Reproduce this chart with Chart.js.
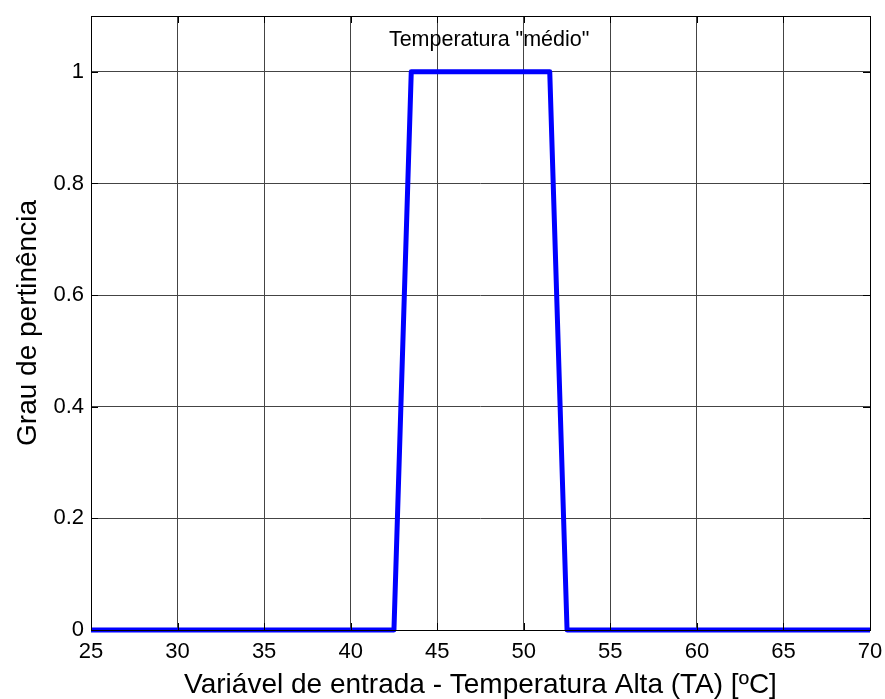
<!DOCTYPE html>
<html>
<head>
<meta charset="utf-8">
<script src="https://cdn.jsdelivr.net/npm/chart.js@4/dist/chart.umd.min.js"></script>
<style>
  html, body { margin: 0; padding: 0; background: #fff; }
  #wrap { width: 885px; height: 699px; }
</style>
</head>
<body>
<div id="wrap"><canvas id="c" width="885" height="699"></canvas></div>
<script>
// membership function "médio" (trapezoid)
const tempX = [25, 42.5, 43.5, 51.5, 52.5, 70];
const grau = [0, 0, 1, 1, 0, 0];
const xTicks = [25, 30, 35, 40, 45, 50, 55, 60, 65, 70];
const yTicks = [0, 0.2, 0.4, 0.6, 0.8, 1];
const labelText = 'Temperatura "médio"';
const labelPos = [48, 1.057];

const FONT = '"Liberation Sans", Arial, sans-serif';

const framePlugin = {
  id: 'frame',
  afterDatasetsDraw(chart) {
    const { ctx, chartArea: a, scales: { x, y } } = chart;
    ctx.save();
    ctx.strokeStyle = '#000';
    ctx.lineWidth = 1;
    ctx.beginPath();
    xTicks.forEach(v => {
      const px = Math.round(x.getPixelForValue(v)) + 0.5;
      ctx.moveTo(px, a.bottom); ctx.lineTo(px, a.bottom - 7);
      ctx.moveTo(px, a.top); ctx.lineTo(px, a.top + 7);
    });
    yTicks.forEach(v => {
      const py = Math.round(y.getPixelForValue(v)) + 0.5;
      ctx.moveTo(a.left, py); ctx.lineTo(a.left + 7, py);
      ctx.moveTo(a.right, py); ctx.lineTo(a.right - 7, py);
    });
    ctx.stroke();
    ctx.strokeRect(Math.round(a.left) + 0.5, Math.round(a.top) + 0.5,
      Math.round(a.right - a.left), Math.round(a.bottom - a.top));
    ctx.fillStyle = '#000';
    ctx.font = '21.5px ' + FONT;
    ctx.textAlign = 'center';
    ctx.textBaseline = 'middle';
    ctx.fillText(labelText, x.getPixelForValue(labelPos[0]), y.getPixelForValue(labelPos[1]));
    ctx.restore();
  }
};

new Chart(document.getElementById('c'), {
  type: 'line',
  data: {
    datasets: [{
      data: tempX.map((t, i) => ({ x: t, y: grau[i] })),
      borderColor: '#0000ff',
      borderWidth: 5,
      pointRadius: 0,
      tension: 0,
      borderJoinStyle: 'round',
      clip: false
    }]
  },
  options: {
    responsive: false,
    animation: false,
    layout: { padding: { left: 0, right: 15, top: 16, bottom: 0 } },
    plugins: { legend: { display: false }, tooltip: { enabled: false } },
    scales: {
      x: {
        type: 'linear', min: 25, max: 70,
        afterBuildTicks: s => { s.ticks = xTicks.map(v => ({ value: v })); },
        afterFit: s => { s.height = 69; s.paddingLeft = 0; s.paddingRight = 0; },
        grid: { color: '#444', borderDash: [1, 2], drawTicks: false, lineWidth: 1 },
        border: { display: false },
        ticks: { color: '#000', font: { family: FONT, size: 22 }, padding: 9, maxRotation: 0 },
        title: { display: true, text: 'Variável de entrada - Temperatura Alta (TA) [ºC]',
          color: '#000', font: { family: FONT, size: 28, lineHeight: 1.0 }, padding: { top: 0, bottom: 0 } }
      },
      y: {
        type: 'linear', min: 0, max: 1.1,
        afterBuildTicks: s => { s.ticks = yTicks.map(v => ({ value: v })); },
        afterFit: s => { s.width = 91; s.paddingTop = 0; s.paddingBottom = 0; },
        grid: { color: '#444', borderDash: [1, 2], drawTicks: false, lineWidth: 1 },
        border: { display: false },
        ticks: { color: '#000', font: { family: FONT, size: 22 }, padding: 7,
          callback: v => String(+v.toFixed(1)) },
        title: { display: true, text: 'Grau de pertinência',
          color: '#000', font: { family: FONT, size: 28, lineHeight: 1.1 }, padding: { top: 13, bottom: 0 } }
      }
    }
  },
  plugins: [framePlugin]
});
</script>
</body>
</html>
